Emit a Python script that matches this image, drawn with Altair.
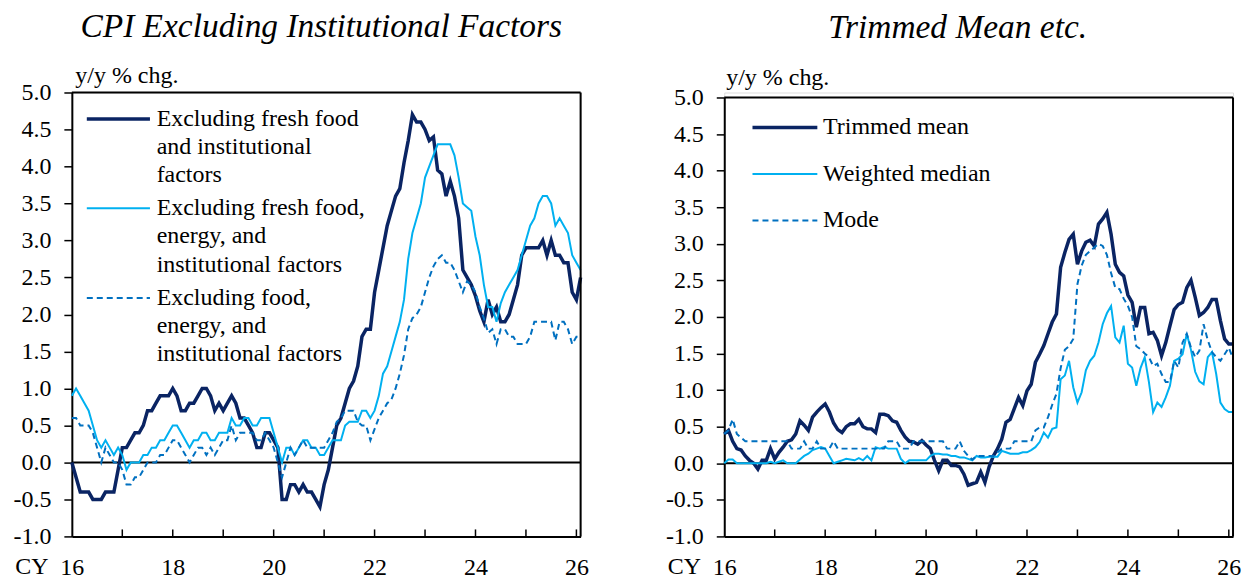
import altair as alt
import pandas as pd

# Month index: 0 = Jan 2016 ... 121 = Feb 2026
months = list(range(122))

ex_fresh_food = [
    0.0, -0.2, -0.4, -0.4, -0.4, -0.5, -0.5, -0.5, -0.4, -0.4, -0.4, -0.1,
    0.2, 0.2, 0.3, 0.4, 0.4, 0.5, 0.7, 0.7, 0.8, 0.9, 0.9, 0.9,
    1.0, 0.9, 0.7, 0.7, 0.8, 0.8, 0.9, 1.0, 1.0, 0.9, 0.7, 0.8,
    0.7, 0.8, 0.9, 0.8, 0.6, 0.6, 0.5, 0.4, 0.2, 0.2, 0.4, 0.4,
    0.3, 0.2, -0.5, -0.5, -0.3, -0.3, -0.4, -0.3, -0.4, -0.4, -0.5, -0.6,
    -0.3, -0.1, 0.2, 0.5, 0.6, 0.8, 1.0, 1.1, 1.3, 1.7, 1.8, 1.8,
    2.3, 2.6, 2.9, 3.2, 3.4, 3.6, 3.7, 4.05, 4.35, 4.7, 4.6, 4.6,
    4.5, 4.35, 4.4, 3.95, 3.9, 3.6, 3.8, 3.6, 3.3, 2.6, 2.5, 2.4,
    2.25, 2.05, 1.9, 2.2, 2.0, 2.1, 1.9, 1.9, 2.0, 2.2, 2.4, 2.8,
    2.9, 2.9, 2.9, 2.9, 3.0, 2.8, 3.0, 2.8, 2.8, 2.7, 2.7, 2.3,
    2.2, 2.5,
]

ex_fresh_food_energy = [
    0.9, 1.0, 0.9, 0.8, 0.7, 0.5, 0.3, 0.2, 0.3, 0.2, 0.1, 0.2,
    0.1, -0.1, 0.0, 0.0, 0.0, 0.1, 0.1, 0.2, 0.2, 0.3, 0.3, 0.4,
    0.5, 0.5, 0.4, 0.3, 0.2, 0.3, 0.3, 0.4, 0.4, 0.3, 0.3, 0.4,
    0.4, 0.4, 0.6, 0.5, 0.5, 0.6, 0.6, 0.5, 0.5, 0.6, 0.6, 0.6,
    0.4, 0.2, 0.0, 0.2, 0.2, 0.1, 0.2, 0.3, 0.3, 0.2, 0.2, 0.1,
    0.1, 0.2, 0.3, 0.3, 0.3, 0.5, 0.55, 0.55, 0.55, 0.7, 0.7, 0.6,
    0.7, 0.9, 1.2, 1.3, 1.5, 1.7, 1.9, 2.2, 2.75, 3.1, 3.3, 3.5,
    3.85, 4.0, 4.15, 4.3, 4.3, 4.3, 4.3, 4.15, 3.85, 3.5, 3.45, 3.4,
    3.05, 2.8, 2.4, 2.1, 2.1, 1.9, 2.15, 2.3, 2.4, 2.5, 2.6, 2.8,
    3.0, 3.2, 3.3, 3.5, 3.6, 3.6, 3.5, 3.2, 3.3, 3.2, 3.1, 2.8,
    2.7, 2.6,
]

ex_food_energy = [
    0.6, 0.6, 0.5, 0.5, 0.5, 0.4, 0.2, 0.0, 0.2, 0.1, 0.0, 0.0,
    -0.1, -0.3, -0.3, -0.2, -0.2, -0.1, 0.0, 0.0, 0.0, 0.1, 0.1, 0.2,
    0.3, 0.3, 0.2, 0.1, 0.0, 0.1, 0.2, 0.2, 0.1, 0.2, 0.1, 0.2,
    0.3, 0.3, 0.5, 0.3, 0.4, 0.4, 0.4, 0.4, 0.3, 0.3, 0.4, 0.3,
    0.2, 0.0, -0.2, 0.0, 0.2, 0.1, 0.2, 0.3, 0.2, 0.2, 0.2, 0.2,
    0.2, 0.3, 0.4, 0.55, 0.6, 0.7, 0.7, 0.7, 0.55, 0.5, 0.5, 0.3,
    0.45, 0.6, 0.7, 0.8, 0.85, 1.0, 1.2, 1.45, 1.8, 1.95, 2.0, 2.1,
    2.3, 2.5, 2.65, 2.75, 2.8, 2.7, 2.7, 2.6, 2.45, 2.3, 2.45, 2.4,
    2.3, 2.1, 1.95, 1.75, 1.8, 1.6, 1.8, 1.8, 1.7, 1.7, 1.6, 1.6,
    1.6, 1.7, 1.9, 1.9, 1.9, 1.9, 1.9, 1.65, 1.9, 1.9, 1.8, 1.6,
    1.7, 1.7,
]

trimmed_mean = [
    0.4, 0.45, 0.3, 0.2, 0.18, 0.1, 0.04, 0.0, -0.08, 0.04, 0.04, 0.2,
    0.06, 0.15, 0.22, 0.3, 0.32, 0.4, 0.58, 0.52, 0.45, 0.63, 0.7, 0.76,
    0.81, 0.7, 0.55, 0.46, 0.42, 0.5, 0.54, 0.54, 0.6, 0.5, 0.47, 0.47,
    0.42, 0.67, 0.67, 0.65, 0.58, 0.56, 0.45, 0.36, 0.3, 0.29, 0.26, 0.31,
    0.25, 0.2, 0.04, -0.1, 0.04, 0.04, -0.03, -0.03, -0.05, -0.15, -0.3, -0.28,
    -0.26, -0.12, -0.26, -0.05, 0.1, 0.2, 0.33, 0.56, 0.6, 0.75, 0.9, 0.79,
    0.99, 1.08, 1.38, 1.49, 1.61, 1.77, 1.93, 2.04, 2.68, 2.88, 3.06, 3.13,
    2.72, 2.9, 3.02, 3.05, 2.97, 3.27, 3.34, 3.43, 3.13, 2.72, 2.61, 2.56,
    2.3, 2.2, 1.86, 2.13, 2.13, 1.77, 1.79, 1.68, 1.47, 1.65, 1.88, 2.1,
    2.17, 2.2, 2.4, 2.5, 2.27, 2.02, 2.06, 2.13, 2.24, 2.24, 1.95, 1.7,
    1.63, 1.63,
]

weighted_median = [
    0.0, 0.05, 0.05, 0.0, 0.0, 0.0, 0.0, 0.0, 0.0, 0.0, 0.0, 0.02,
    0.0, 0.02, 0.04, 0.0, 0.0, 0.0, 0.05, 0.1, 0.13, 0.18, 0.2, 0.22,
    0.2, 0.1, 0.0, 0.02, 0.04, 0.06, 0.05, 0.04, 0.07, 0.04, 0.1, 0.04,
    0.22, 0.2, 0.22, 0.2, 0.2, 0.2, 0.06, 0.0, 0.04, 0.04, 0.04, 0.04,
    0.04, 0.1, 0.13, 0.13, 0.12, 0.12, 0.1, 0.1, 0.08, 0.08, 0.06, 0.04,
    0.1, 0.08, 0.08, 0.09, 0.09, 0.09, 0.17, 0.15, 0.13, 0.13, 0.13, 0.15,
    0.15, 0.18, 0.22, 0.29, 0.42, 0.35, 0.47, 0.49, 1.15, 1.2, 1.4, 1.04,
    0.83, 0.97, 1.27, 1.4, 1.47, 1.65, 1.9, 2.05, 2.15, 1.72, 1.65, 1.88,
    1.36, 1.31, 1.06, 1.3, 1.45, 1.11, 0.7, 0.83, 0.77, 0.9, 1.06, 1.4,
    1.43, 1.49, 1.77, 1.55, 1.25, 1.12, 1.08, 1.45, 1.52, 1.22, 0.83, 0.74,
    0.7, 0.7,
]

mode = [
    0.4, 0.45, 0.6, 0.4, 0.35, 0.3, 0.3, 0.3, 0.3, 0.3, 0.3, 0.3,
    0.3, 0.3, 0.3, 0.3, 0.2, 0.2, 0.2, 0.3, 0.2, 0.2, 0.3, 0.2,
    0.2, 0.2, 0.3, 0.2, 0.2, 0.2, 0.2, 0.2, 0.2, 0.2, 0.2, 0.2,
    0.2, 0.2, 0.2, 0.3, 0.3, 0.3, 0.2, 0.2, 0.2, 0.3, 0.3, 0.3,
    0.3, 0.3, 0.3, 0.3, 0.3, 0.2, 0.2, 0.2, 0.3, 0.17, 0.1, 0.05,
    0.1, 0.1, 0.1, 0.1, 0.1, 0.15, 0.2, 0.2, 0.2, 0.3, 0.3, 0.3,
    0.3, 0.3, 0.45, 0.49, 0.49, 0.63, 0.8, 0.95, 1.3, 1.55, 1.6, 1.7,
    2.45, 2.7, 2.85, 2.9, 2.95, 3.0, 2.97, 2.85, 2.6, 2.4, 2.38, 2.25,
    2.15, 2.0, 1.6, 1.56, 1.5, 1.45, 1.33, 1.36, 1.22, 1.11, 1.11, 1.4,
    1.31, 1.65, 1.77, 1.58, 1.45, 1.54, 1.9, 1.68, 1.52, 1.45, 1.4, 1.49,
    1.58, 1.43,
]

y_ticks = [-1.0, -0.5, 0.0, 0.5, 1.0, 1.5, 2.0, 2.5, 3.0, 3.5, 4.0, 4.5, 5.0]
x_label_months = [0, 24, 48, 72, 96, 120]   # CY 16, 18, ..., 26
year_tick_months = list(range(12, 121, 12))

left_title = "CPI Excluding Institutional Factors"
right_title = "Trimmed Mean etc."
unit_label = "y/y % chg."

left_legend = [
    ["Excluding fresh food", "and institutional", "factors"],
    ["Excluding fresh food,", "energy, and", "institutional factors"],
    ["Excluding food,", "energy, and", "institutional factors"],
]
right_legend = [["Trimmed mean"], ["Weighted median"], ["Mode"]]

FONT = "Liberation Serif"
NAVY = "#0A2463"
SKY = "#00B0F0"
MID = "#0070C0"
STYLES = [
    dict(color=NAVY, strokeWidth=3.5),
    dict(color=SKY, strokeWidth=2),
    dict(color=MID, strokeWidth=2, strokeDash=[6, 4]),
]
W = 510
H = 445


def text_layer(txt, x, y, size=24, align="left", style="normal"):
    return alt.Chart(pd.DataFrame({"t": [txt]})).mark_text(
        font=FONT, fontSize=size, fontStyle=style, color="black",
        align=align, baseline="middle"
    ).encode(text="t:N", x=alt.value(x), y=alt.value(y))


def frame_rule(**enc):
    return alt.Chart(pd.DataFrame({"a": [0]})).mark_rule(
        color="black", strokeWidth=2
    ).encode(**{k: alt.value(v) for k, v in enc.items()})


def panel(series, legend, top, title, title_x, title_y, unit_x, unit_y,
          leg_line_x, leg_text_x, leg_ys, line_gap):
    xenc = alt.X(
        "m:Q",
        scale=alt.Scale(domain=[0, 121], nice=False, zero=False),
        axis=alt.Axis(
            values=x_label_months,
            labelExpr="format(16 + datum.value / 12, 'd')",
            ticks=False, grid=False, domainColor="black", domainWidth=2,
            labelFont=FONT, labelFontSize=24, labelColor="black",
            labelPadding=19, labelFlush=False, title=None,
        ),
    )
    yenc = alt.Y(
        "v:Q",
        scale=alt.Scale(domain=[-1, 5], range=[H, top], nice=False, zero=False),
        axis=alt.Axis(
            values=y_ticks,
            labelExpr="datum.value < 0 ? '-' + format(abs(datum.value), '.1f') : format(datum.value, '.1f')",
            tickSize=8, tickWidth=1.5, tickColor="black", grid=False,
            domainColor="black", domainWidth=2,
            labelFont=FONT, labelFontSize=24, labelColor="black",
            labelPadding=13, title=None,
        ),
    )
    layers = []
    layers.append(
        alt.Chart(pd.DataFrame({"v": [0.0]})).mark_rule(color="black", strokeWidth=2)
        .encode(y=yenc)
    )
    layers.append(
        alt.Chart(pd.DataFrame({"m": year_tick_months})).mark_rule(color="black", strokeWidth=1.5)
        .encode(x=xenc, y=alt.value(H - 7), y2=alt.value(H))
    )
    for vals, st in zip(series, STYLES):
        df = pd.DataFrame({"m": months, "v": vals})
        layers.append(alt.Chart(df).mark_line(**st).encode(x=xenc, y=yenc))
    # plot frame (top and right)
    layers.append(frame_rule(x=0, x2=W, y=top))
    layers.append(frame_rule(x=W, y=top, y2=H))
    # legend
    for lines, st, ly in zip(legend, STYLES, leg_ys):
        layers.append(
            alt.Chart(pd.DataFrame({"a": [0]})).mark_rule(**st).encode(
                x=alt.value(leg_line_x[0]), x2=alt.value(leg_line_x[1]), y=alt.value(ly)
            )
        )
        for i, ln in enumerate(lines):
            layers.append(text_layer(ln, leg_text_x, ly + i * line_gap))
    layers.append(text_layer(title, title_x, title_y, size=33.5, align="center", style="italic"))
    layers.append(text_layer(unit_label, unit_x, unit_y))
    layers.append(text_layer("CY", -40, H + 31, align="center"))
    return alt.layer(*layers).properties(width=W, height=H)


left = panel(
    [ex_fresh_food, ex_fresh_food_energy, ex_food_energy], left_legend, 0,
    left_title, 250, -65.7, 3.5, -16.5,
    (15, 78.3), 85, [26.6, 116, 206], 28.3,
)
right = panel(
    [trimmed_mean, weighted_median, mode], right_legend, 5,
    right_title, 234, -64.7, 2, -15,
    (28.3, 93.3), 99, [35, 81.6, 128.3], 28.3,
)

chart = alt.hconcat(left, right, spacing=75).properties(
    padding={"left": 4, "top": 0, "right": 0, "bottom": 0}
).configure_view(strokeWidth=0).configure(background="white")

chart.save("out.html", embed_options={"renderer": "svg", "actions": False})
